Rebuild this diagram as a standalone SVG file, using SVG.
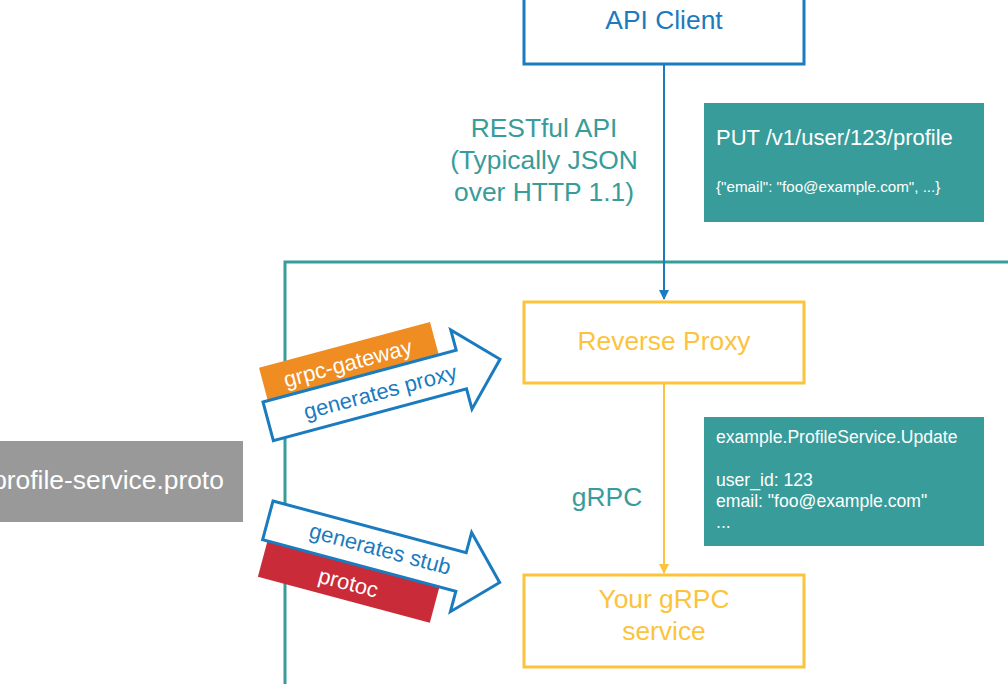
<svg xmlns="http://www.w3.org/2000/svg" width="1008" height="684" viewBox="0 0 1008 684">
<defs>
<style>
text{font-family:"Liberation Sans",Arial,sans-serif}
.box{fill:#fff;stroke-width:3}
.blue{stroke:#1a7bbf}
.yel{stroke:#fcc33c}
.tb{fill:#389c9a}
.wt{fill:#fff}
.big{font-size:26.4px}
.arr{fill:#fff;stroke:#1a7bbf;stroke-width:3;stroke-linejoin:miter}
</style>
<marker id="mb" viewBox="0 0 10 10" refX="9" refY="5" markerWidth="10" markerHeight="10" markerUnits="userSpaceOnUse" orient="auto"><path d="M0,0 L10,5 L0,10 Z" fill="#1a7bbf"/></marker>
<marker id="my" viewBox="0 0 10 10" refX="9" refY="5" markerWidth="10" markerHeight="10" markerUnits="userSpaceOnUse" orient="auto"><path d="M0,0 L10,5 L0,10 Z" fill="#fcc33c"/></marker>
</defs>
<rect width="1008" height="684" fill="#fff"/>
<g id="frame"><path d="M285,684 V262 H1008" fill="none" stroke="#389c9a" stroke-width="3"/></g>
<g id="connectors">
<line x1="664" y1="64" x2="664" y2="299" stroke="#1a7bbf" stroke-width="2" marker-end="url(#mb)"/>
<line x1="664" y1="383" x2="664" y2="573" stroke="#fcc33c" stroke-width="2" marker-end="url(#my)"/>
<text class="big" x="544" y="137" fill="#389c9a" text-anchor="middle">RESTful API</text>
<text class="big" x="544" y="169" fill="#389c9a" text-anchor="middle">(Typically JSON</text>
<text class="big" x="544" y="201" fill="#389c9a" text-anchor="middle">over HTTP 1.1)</text>
<text class="big" x="607" y="506" fill="#389c9a" text-anchor="middle">gRPC</text>
</g>
<g id="api-client"><rect class="box blue" x="524" y="-17" width="280" height="81"/><text class="big" x="664" y="29" fill="#1a7bbf" text-anchor="middle">API Client</text></g>
<g id="reverse-proxy"><rect class="box yel" x="524" y="302" width="280" height="81"/><text class="big" x="664" y="350" fill="#fcc33c" text-anchor="middle">Reverse Proxy</text></g>
<g id="grpc-service"><rect class="box yel" x="524" y="575" width="280" height="92"/><text class="big" x="664" y="608" fill="#fcc33c" text-anchor="middle">Your gRPC</text><text class="big" x="664" y="640" fill="#fcc33c" text-anchor="middle">service</text></g>
<g id="rest-note"><rect class="tb" x="704" y="103" width="280" height="119"/><text class="wt" x="716" y="145" font-size="22">PUT /v1/user/123/profile</text><text class="wt" x="716" y="192" font-size="15.2">{"email": "foo@example.com", ...}</text></g>
<g id="grpc-note"><rect class="tb" x="704" y="417" width="280" height="129"/><text class="wt" x="716" y="443" font-size="17.6">example.ProfileService.Update</text><text class="wt" x="716" y="486" font-size="17.6">user_id: 123</text><text class="wt" x="716" y="507" font-size="17.6">email: "foo@example.com"</text><text class="wt" x="716" y="528" font-size="17.6">...</text></g>
<g id="proto"><rect x="-37" y="441" width="280" height="81" fill="#999999"/><text class="wt big" x="108" y="489" text-anchor="middle">profile-service.proto</text></g>
<g id="gateway-arrow" transform="translate(263,402) rotate(-15)">
<rect x="5" y="-34" width="177" height="40" fill="#ef8c22"/>
<text class="wt" x="92" y="-8" font-size="22" text-anchor="middle">grpc-gateway</text>
<path class="arr" d="M0,0 H200 V-21 L240,20 L200,61 V40 H0 Z"/>
<text x="116" y="28" font-size="22" fill="#1a7bbf" text-anchor="middle">generates proxy</text>
</g>
<g id="protoc-arrow" transform="translate(273,501) rotate(15)">
<rect x="5" y="37" width="178" height="40" fill="#c92b38"/>
<text class="wt" x="94" y="67" font-size="22" text-anchor="middle">protoc</text>
<path class="arr" d="M0,0 H200 V-21 L240,20 L200,61 V40 H0 Z"/>
<text x="116" y="26" font-size="22" fill="#1a7bbf" text-anchor="middle">generates stub</text>
</g>
</svg>
